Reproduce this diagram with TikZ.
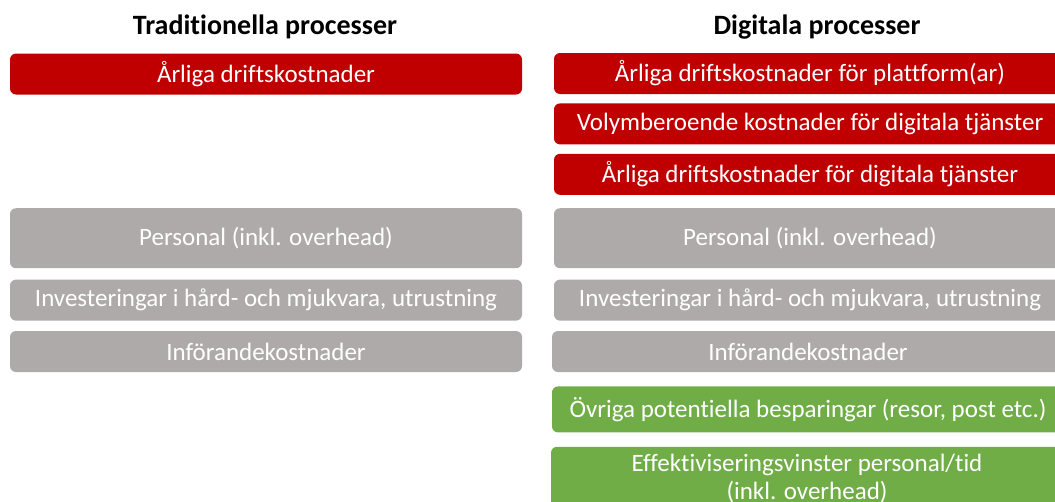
\documentclass[tikz,border=0pt]{standalone}
\usepackage{fontspec}
\setmainfont{Carlito}[Ligatures=NoCommon]
\usepackage{xcolor}
\usepackage{tikz}
\usetikzlibrary{positioning}

\definecolor{costred}{HTML}{C00000}
\definecolor{costgray}{HTML}{AEAAAA}
\definecolor{gaingreen}{HTML}{70AD47}

\begin{document}
\begin{tikzpicture}[x=1pt, y=-1pt, node distance=10pt,
    box/.style={rounded corners=6pt, minimum width=512pt, inner sep=0pt,
      text=white, align=center, font=\fontsize{25}{28}\selectfont},
    redbox/.style={box, fill=costred, minimum height=41pt},
    graybox/.style={box, fill=costgray, minimum height=41pt},
    greenbox/.style={box, fill=gaingreen, minimum height=46pt},
    head/.style={font=\fontsize{28}{32}\selectfont\bfseries}]
  \clip (0,0) rectangle (1055,501);
  % column titles
  \node[head] (trad) at (265,27) {Traditionella processer};
  \node[head] (digi) at (817,27) {Digitala processer};
  % digital column, top to bottom
  \node[redbox] (darl) at (810,73.5) {Årliga driftskostnader för plattform(ar)};
  \node[redbox, below=9pt of darl] (dvol) {Volymberoende kostnader för digitala tjänster};
  \node[redbox, below=9pt of dvol] (dtj) {Årliga driftskostnader för digitala tjänster};
  \node[graybox, minimum height=60pt, below=13pt of dtj] (dpers) {Personal (inkl. overhead)};
  \node[graybox, below=11pt of dpers] (dinv) {Investeringar i hård- och mjukvara, utrustning};
  \node[graybox, below=10pt of dinv, xshift=-2pt] (dinf) {Införandekostnader};
  \node[greenbox, below=14pt of dinf] (dovr) {Övriga potentiella besparingar (resor, post etc.)};
  \node[greenbox, minimum height=64pt, below=14pt of dovr, xshift=-1pt] (deff)
    {Effektiviseringsvinster personal/tid\\(inkl. overhead)};
  % traditional column, rows lined up with the digital one
  \node[redbox] (tarl) at (266,74) {Årliga driftskostnader};
  \node[graybox, minimum height=60pt] (tpers) at (tarl |- dpers) {Personal (inkl. overhead)};
  \node[graybox] (tinv) at (tarl |- dinv) {Investeringar i hård- och mjukvara, utrustning};
  \node[graybox] (tinf) at (tarl |- dinf) {Införandekostnader};
\end{tikzpicture}
\end{document}
